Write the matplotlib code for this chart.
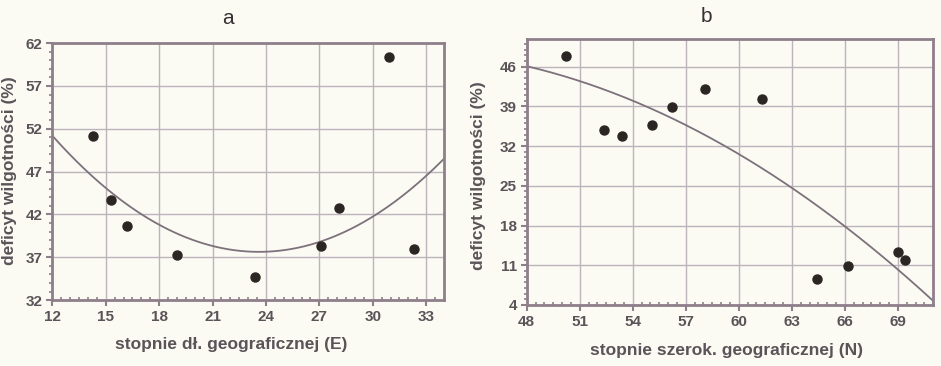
import numpy as np
import matplotlib.pyplot as plt
from matplotlib.ticker import FixedLocator, MultipleLocator

plt.rcParams['font.family'] = ['Liberation Sans', 'DejaVu Sans']

# a: deficyt wilgotnosci vs dlugosc geograficzna
lon = [14.3, 15.3, 16.2, 19.0, 23.4, 27.1, 28.1, 30.9, 32.3]
def_a = [51.1, 43.7, 40.7, 37.3, 34.7, 38.3, 42.8, 60.4, 38.0]
# trend curve a, sampled along the x grid
trend_a_x = [12, 15, 18, 21, 24, 27, 30, 33, 34]
trend_a_y = [51.2, 45.0, 40.9, 38.4, 37.6, 38.8, 41.6, 46.6, 48.5]

# b: deficyt wilgotnosci vs szerokosc geograficzna
lat = [50.2, 52.4, 53.4, 55.1, 56.2, 58.1, 61.3, 64.4, 66.2, 69.0, 69.4]
def_b = [47.8, 34.8, 33.8, 35.7, 38.8, 42.1, 40.3, 8.5, 10.9, 13.4, 11.9]
trend_b_x = [48, 51, 57, 60, 63, 66, 69, 71]
trend_b_y = [46.0, 43.6, 35.5, 30.7, 24.6, 17.8, 10.4, 4.6]

xticks_a = [12, 15, 18, 21, 24, 27, 30, 33]
yticks_a = [32, 37, 42, 47, 52, 57, 62]
xticks_b = [48, 51, 54, 57, 60, 63, 66, 69]
yticks_b = [4, 11, 18, 25, 32, 39, 46]

bg = '#fbfbf4'
frame = '#8e7f8b'
gridc = '#bdb3ba'
dot = '#2b2624'
curvec = '#7d717b'
textc = '#5a5358'

fig = plt.figure(figsize=(9.41, 3.66), dpi=100, facecolor=bg)
ax1 = fig.add_axes([0.0556, 0.180, 0.4162, 0.7022])
ax2 = fig.add_axes([0.5597, 0.1667, 0.4321, 0.7259])


def style(ax, xlim, ylim, xt, yt, xmin, ymin):
    ax.set_facecolor(bg)
    ax.set_xlim(*xlim)
    ax.set_ylim(*ylim)
    ax.xaxis.set_major_locator(FixedLocator(xt))
    ax.yaxis.set_major_locator(FixedLocator(yt))
    ax.xaxis.set_minor_locator(MultipleLocator(xmin))
    ax.yaxis.set_minor_locator(MultipleLocator(ymin))
    ax.grid(True, which='major', color=gridc, lw=1.0)
    ax.set_axisbelow(True)
    for s in ax.spines.values():
        s.set_color(frame)
        s.set_linewidth(2.0)
    ax.tick_params(which='major', direction='out', length=4, width=1.5,
                   color=frame, labelcolor=textc, labelsize=11, pad=3)
    ax.tick_params(axis='y', which='minor', direction='out', length=2.5,
                   width=1.2, color=frame)
    ax.tick_params(axis='x', which='minor', direction='in', length=2.5,
                   width=1.2, color=frame)
    for lab in ax.get_xticklabels() + ax.get_yticklabels():
        lab.set_fontweight('bold')


style(ax1, (12, 34), (32, 62), xticks_a, yticks_a, 0.5, 1)
style(ax2, (48, 71), (4, 50.8), xticks_b, yticks_b, 0.5, 1)

# smooth 2nd order trend through the sampled curve values
xa = np.linspace(12, 34, 200)
ax1.plot(xa, np.polyval(np.polyfit(trend_a_x, trend_a_y, 2), xa),
         color=curvec, lw=1.3)
xb = np.linspace(48, 71, 200)
ax2.plot(xb, np.polyval(np.polyfit(trend_b_x, trend_b_y, 2), xb),
         color=curvec, lw=1.3)

ax1.plot(lon, def_a, 'o', color=dot, ms=6.5, clip_on=False)
ax2.plot(lat, def_b, 'o', color=dot, ms=6.5, clip_on=False)

lab_kw = dict(fontsize=12.5, fontweight='bold', color=textc,
              ha='center', va='center')
fig.text(231.5 / 941, 1 - 345 / 366, 'stopnie dł. geograficznej (E)', **lab_kw)
fig.text(726.7 / 941, 1 - 350 / 366, 'stopnie szerok. geograficznej (N)', **lab_kw)
fig.text(10 / 941, 1 - 171 / 366, 'deficyt wilgotności (%)', rotation=90, **lab_kw)
fig.text(479 / 941, 1 - 176 / 366, 'deficyt wilgotności (%)', rotation=90, **lab_kw)

fig.text(0.242, 0.95, 'a', fontsize=15, color='#353033', ha='center', va='center')
fig.text(0.751, 0.955, 'b', fontsize=15, color='#353033', ha='center', va='center')

fig.savefig('out.png', dpi=100, facecolor=bg)
